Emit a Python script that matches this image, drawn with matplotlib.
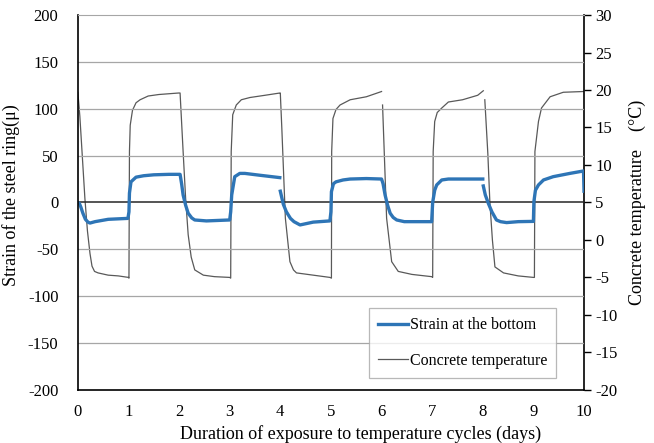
import numpy as np
import matplotlib
matplotlib.use("Agg")
import matplotlib.pyplot as plt

plt.rcParams['font.family'] = ['Liberation Serif', 'DejaVu Serif']
plt.rcParams['axes.unicode_minus'] = False

# strain of the steel ring (micro strain) vs time (days); nan = break in record
strain_t = [0.00, 0.03, 0.06, 0.10, 0.15, 0.20, 0.24, 0.34, 0.60, 0.99,
            1.01, 1.02, 1.05, 1.09, 1.15, 1.30, 1.50, 1.80, 2.02,
            2.05, 2.08, 2.13, 2.18, 2.25, 2.31, 2.54, 3.00,
            3.02, 3.04, 3.10, 3.20, 3.30, 3.60, 3.99, 3.995,
            4.00, 4.06, 4.12, 4.20, 4.27, 4.39, 4.65, 4.98,
            5.00, 5.01, 5.05, 5.10, 5.24, 5.38, 5.70, 6.00,
            6.03, 6.07, 6.12, 6.17, 6.23, 6.30, 6.45, 6.99,
            7.01, 7.05, 7.09, 7.19, 7.32, 7.60, 8.00, 8.005,
            8.01, 8.05, 8.11, 8.18, 8.27, 8.35, 8.47, 8.70, 9.00,
            9.01, 9.04, 9.10, 9.20, 9.39, 9.72, 9.99, 10.00]
strain = [0, -1, -5, -11.5, -18, -21, -22, -20.5, -18, -17,
          -10, 10, 22, 24, 27, 28.5, 29.5, 30, 30,
          20, 8, -3, -11.5, -16.5, -18.7, -19.7, -18.7,
          -10, 8, 27.5, 31, 31, 29, 26.5, np.nan,
          12, -2, -10, -17, -20.5, -24, -21, -19.7,
          -10, 11.5, 20, 22, 24, 25, 25.5, 25,
          20, 8, -3, -11.5, -16, -18.7, -20.5, -20.5,
          0, 13, 18.7, 24, 25, 25, 25, np.nan,
          17.6, 8, -1, -10, -18.7, -20.5, -21.5, -20.5, -20.2,
          1, 13, 18.7, 24, 27.5, 31, 33.6, 12]

# concrete temperature (deg C) vs time (days)
temp_t = [0.00, 0.04, 0.09, 0.14, 0.19, 0.24, 0.28, 0.33, 0.40, 0.60, 0.80, 1.00,
          1.01, 1.02, 1.035, 1.08, 1.15, 1.23, 1.39, 1.60, 1.99,
          2.02, 2.08, 2.13, 2.18, 2.24, 2.31, 2.48, 2.70, 3.00,
          3.02, 3.03, 3.06, 3.13, 3.23, 3.40, 3.70, 3.99,
          4.00, 4.03, 4.10, 4.19, 4.26, 4.32, 4.65, 4.98,
          5.01, 5.015, 5.04, 5.10, 5.18, 5.38, 5.70, 6.00, 6.01,
          6.02, 6.10, 6.20, 6.33, 6.60, 6.99,
          7.01, 7.02, 7.05, 7.10, 7.19, 7.32, 7.60, 7.90, 8.01, 8.02,
          8.04, 8.10, 8.14, 8.19, 8.24, 8.41, 8.70, 9.00,
          9.02, 9.03, 9.10, 9.16, 9.33, 9.59, 9.99]
temp = [19.7, 16.5, 11.0, 5.5, 1.2, -1.8, -3.5, -4.2, -4.4, -4.7, -4.8, -5.0,
        -5.1, 11.8, 15.3, 17.3, 18.3, 18.7, 19.2, 19.4, 19.6,
        19.6, 11.8, 5.5, 0.7, -2.3, -4.0, -4.7, -4.9, -5.0,
        -5.1, 11.8, 16.7, 18.0, 18.7, 19.0, 19.3, 19.6,
        19.6, 14.9, 2.9, -2.9, -4.0, -4.4, -4.7, -5.0,
        -5.1, 11.8, 16.2, 17.4, 18.0, 18.7, 19.1, 19.8, np.nan,
        18.0, 2.9, -2.9, -4.2, -4.6, -4.9,
        -5.0, 11.8, 15.8, 17.0, 17.6, 18.4, 18.7, 19.3, 19.9, np.nan,
        18.7, 11.5, 5.0, 0.0, -3.6, -4.4, -4.8, -5.0,
        -5.0, 11.8, 15.8, 17.6, 19.1, 19.7, 19.8]

fig = plt.figure(figsize=(6.54, 4.43), dpi=100)
ax = fig.add_axes([0.119, 0.120, 0.774, 0.846])
ax2 = ax.twinx()
ax.set_zorder(ax2.get_zorder() + 1)
ax.patch.set_visible(False)

l1, = ax.plot(strain_t, strain, color='#2E75B6', lw=2.4, label='Strain at the bottom')
l2, = ax2.plot(temp_t, temp, color='#595959', lw=0.9, label='Concrete temperature')

ax.set_xlim(0, 10)
ax.set_ylim(-200, 200)
ax2.set_ylim(-20, 30)
ax.set_xticks(range(0, 11))
ax.set_yticks(range(-200, 201, 50))
ax2.set_yticks(range(-20, 31, 5))

for y in range(-150, 151, 50):
    if y != 0:
        ax.axhline(y, color='#A6A6A6', lw=0.9, zorder=0)
ax.axhline(0, color='#262626', lw=1.1, zorder=1)

ax.spines['top'].set_color('#A6A6A6')
ax.spines['right'].set_visible(False)
for s in ['top', 'left', 'bottom']:
    ax2.spines[s].set_visible(False)
ax2.spines['right'].set_linewidth(1.2)
ax.spines['left'].set_linewidth(1.2)
ax.spines['bottom'].set_linewidth(1.2)

ax.tick_params(axis='y', length=0, labelsize=12, pad=14)
ax.tick_params(axis='x', length=0, labelsize=12, pad=10)
ax2.tick_params(axis='y', direction='out', length=5, width=1.0, labelsize=12, pad=3)

ax.set_xlabel('Duration of exposure to temperature cycles (days)', fontsize=13)
ax.xaxis.set_label_coords(0.559, -0.095)
ax.set_ylabel('Strain of the steel ring(\u03bc)', fontsize=13)
ax.yaxis.set_label_coords(-0.114, 0.52)
ax2.set_ylabel('Concrete temperature\u3000(\u00b0C)', fontsize=13, labelpad=8,
               family=['Liberation Serif', 'Noto Sans CJK JP'])

leg = ax.legend(handles=[l1, l2], loc='lower right', bbox_to_anchor=(0.945, 0.032),
                fontsize=11.5, frameon=True, fancybox=False, edgecolor='#A6A6A6',
                handlelength=1.9, handletextpad=0.1, borderpad=0.55, labelspacing=1.25,
                borderaxespad=0)
leg.get_frame().set_linewidth(0.9)

fig.savefig('out.png', dpi=100)
